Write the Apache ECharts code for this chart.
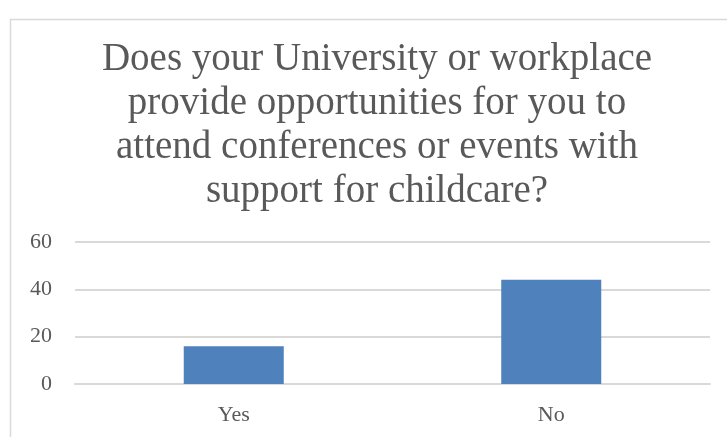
<!DOCTYPE html>
<html>
<head>
<meta charset="utf-8">
<script src="https://cdn.jsdelivr.net/npm/echarts@6/dist/echarts.min.js"></script>
<style>
html,body{margin:0;padding:0;background:#fff;}
#c{width:727px;height:437px;}
</style>
</head>
<body>
<div id="c"></div>
<script>
var titleLines = ["Does your University or workplace", "provide opportunities for you to", "attend conferences or events with", "support for childcare?"];
var categories = ["Yes", "No"];
var values = [16, 44];
var yMin = 0, yMax = 60, yStep = 20;

var chart = echarts.init(document.getElementById('c'), null, {renderer: 'canvas'});
var FONT = '"Liberation Serif", "DejaVu Serif", serif';
chart.setOption({
  animation: false,
  backgroundColor: '#ffffff',
  graphic: [
    {type: 'rect', left: 8, top: 17, shape: {width: 760, height: 460}, style: {fill: 'none', stroke: '#d9d9d9', lineWidth: 1.5}, z: 0},
    {type: 'text', x: 377, y: 38, style: {text: titleLines.join('\n'), fill: '#595959', font: '39px ' + FONT, lineHeight: 44, align: 'center', verticalAlign: 'top'}, z: 10}
  ],
  grid: {left: 75, right: 17, top: 242, bottom: 53, containLabel: false},
  xAxis: {
    type: 'category', data: categories,
    axisLine: {show: true, lineStyle: {color: '#d9d9d9', width: 2}},
    axisTick: {show: false},
    axisLabel: {color: '#595959', fontFamily: FONT, fontSize: 22, margin: 20}
  },
  yAxis: {
    type: 'value', min: yMin, max: yMax, interval: yStep,
    axisLine: {show: false}, axisTick: {show: false},
    splitLine: {lineStyle: {color: '#d9d9d9', width: 2}},
    axisLabel: {color: '#595959', fontFamily: FONT, fontSize: 22, margin: 23}
  },
  series: [{
    type: 'bar', data: values, barWidth: '31.5%',
    itemStyle: {color: '#4f81bd'}
  }]
});
</script>
</body>
</html>
